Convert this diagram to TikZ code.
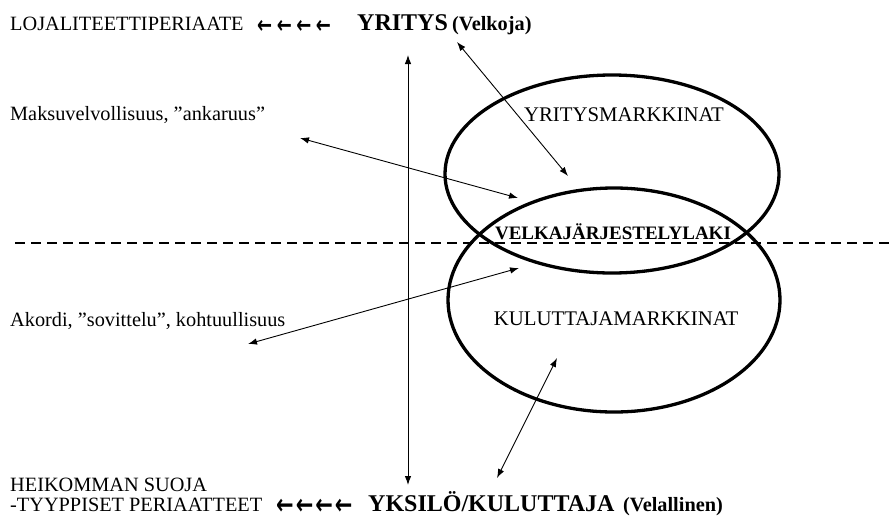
\documentclass[tikz,border=0pt]{standalone}
\usepackage{fontspec}
\usepackage{graphicx}
\setmainfont{Liberation Serif}[BoldFont={Liberation Serif Bold}]
\newfontfamily\arrowfont{DejaVu Sans}[BoldFont={DejaVu Sans Bold}]
\usetikzlibrary{shapes.geometric,arrows.meta}
% a row of four leftward arrows, glyph size #1, gap #2
\newcommand{\leftrow}[2]{\scalebox{1}[1.35]{\arrowfont\bfseries\fontsize{#1}{#1}\selectfont ←\hspace{#2}←\hspace{#2}←\hspace{#2}←}}
\begin{document}
\begin{tikzpicture}[x=1pt,y=-1pt,
  lbl/.style={anchor=base west,inner sep=0pt,font=\fontsize{20.3}{23}\selectfont},
  boldlbl/.style={anchor=base west,inner sep=0pt,font=\fontsize{20.3}{23}\selectfont\bfseries},
  biglbl/.style={anchor=base west,inner sep=0pt,font=\fontsize{24}{26}\selectfont\bfseries},
  midlbl/.style={inner sep=0pt,font=\fontsize{20.8}{23}\selectfont},
  market/.style={draw,ellipse,line width=3.3pt,inner sep=0pt},
  link/.style={line width=0.9pt,{Latex[length=9pt,width=6.5pt]}-{Latex[length=9pt,width=6.5pt]}}]
\useasboundingbox (0,0) rectangle (894,520);

% headline
\node[lbl] (loyal) at (10,30) {LOJALITEETTIPERIAATE};
\node[anchor=base west,inner sep=0pt] (toparr) at (257,33) {\leftrow{18}{4.5pt}};
\node[biglbl] (firm) at (357,30) {YRITYS};
\node[boldlbl] (creditor) at (452,30) {(Velkoja)};

% footline
\node[lbl] (weak1) at (10,491) {HEIKOMMAN SUOJA};
\node[lbl] (weak2) at (10,511) {-TYYPPISET PERIAATTEET};
\node[anchor=base west,inner sep=0pt] (botarr) at (276,514.5) {\leftrow{21}{2pt}};
\node[biglbl] (person) at (368,511) {YKSILÖ/KULUTTAJA};
\node[boldlbl] (debtor) at (623,511) {(Velallinen)};

% side captions
\node[lbl] (strict) at (10,120) {Maksuvelvollisuus, ”ankaruus”};
\node[lbl] (mild) at (10,326) {Akordi, ”sovittelu”, kohtuullisuus};

% the two markets
\node[market,minimum width=334pt,minimum height=198pt] (upper) at (612,174) {};
\node[market,minimum width=332pt,minimum height=224pt] (lower) at (614,300) {};
\node[midlbl] (umk) at (624,115) {YRITYSMARKKINAT};
\node[midlbl] (lmk) at (616,319) {KULUTTAJAMARKKINAT};
\node[inner sep=0pt,font=\fontsize{19}{21}\selectfont\bfseries] (law) at (613,232) {VELKAJÄRJESTELYLAKI};

% dividing line
\coordinate (dl) at (15,243);
\coordinate (dr) at (894,243);
\draw[line width=2pt,dash pattern=on 10pt off 6pt] (dl) -- (dr);

% arrow end points
\coordinate (vt) at (408,55);
\coordinate (vb) at (408,485);
\coordinate (a1) at (457,42);
\coordinate (a2) at (568,176);
\coordinate (b1) at (300,138);
\coordinate (b2) at (518,198);
\coordinate (c1) at (248,344);
\coordinate (c2) at (519,268);
\coordinate (d1) at (497,478);
\coordinate (d2) at (557,358);

\draw[link] (vt) -- (vb);
\draw[link] (a1) -- (a2);
\draw[link] (b1) -- (b2);
\draw[link] (c1) -- (c2);
\draw[link] (d1) -- (d2);
\end{tikzpicture}
\end{document}
